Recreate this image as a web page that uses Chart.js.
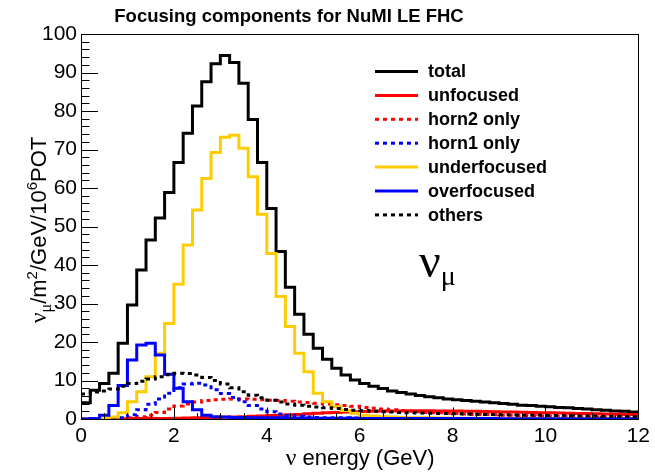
<!DOCTYPE html>
<html><head><meta charset="utf-8">
<script src="https://cdn.jsdelivr.net/npm/chart.js@4/dist/chart.umd.min.js"></script>
<style>html,body{margin:0;padding:0;background:#fff}</style>
</head><body>
<canvas id="c" width="655" height="474"></canvas>
<script>
// ---- data (bin contents, 0.2 GeV bins from 0 to 12 GeV) ----
const binWidth = 0.2;
const total = [4.2,7.5,9.2,11.9,19.7,29.6,38.7,46.5,52.2,58.8,
  66.6,74.2,81.3,87.6,92.3,94.4,92.6,87.2,77.8,66.6,
  54.7,43.5,34.2,27.2,22.0,18.4,15.5,13.2,11.4,10.1,
  9.2,8.5,7.9,7.3,6.9,6.5,6.1,5.8,5.5,5.2,
  5.0,4.8,4.6,4.4,4.2,4.0,3.8,3.6,3.5,3.3,
  3.2,3.0,2.9,2.7,2.6,2.4,2.3,2.1,2.0,1.8];
const unfocused = [0.05,0.05,0.05,0.05,0.05,0.1,0.1,0.1,0.1,0.1,
  0.2,0.25,0.3,0.35,0.4,0.45,0.5,0.6,0.7,0.8,
  0.9,1.0,1.1,1.2,1.35,1.5,1.6,1.7,1.8,1.9,
  1.95,2.0,2.05,2.1,2.1,2.15,2.15,2.15,2.1,2.1,
  2.05,2.0,2.0,1.95,1.9,1.85,1.8,1.75,1.7,1.65,
  1.6,1.55,1.5,1.45,1.4,1.35,1.3,1.25,1.2,1.15];
const horn2Only = [0,0,0,0.05,0.15,0.3,0.6,1.0,1.7,2.6,
  3.4,3.9,4.4,4.8,5.0,5.1,5.2,5.2,5.1,5.0,
  4.9,4.8,4.6,4.4,4.3,4.1,3.9,3.7,3.5,3.3,
  3.0,2.8,2.6,2.4,2.2,2.0,1.9,1.7,1.6,1.5,
  1.4,1.3,1.2,1.15,1.1,1.0,0.95,0.9,0.85,0.8,
  0.75,0.7,0.65,0.6,0.6,0.55,0.5,0.5,0.45,0.4];
const horn1Only = [0,0,0,0.1,0.3,1.1,2.4,3.8,5.2,6.7,
  8.1,9.1,9.3,8.8,7.6,6.6,5.6,4.5,3.5,2.6,
  1.9,1.3,0.9,0.7,0.5,0.4,0.35,0.3,0.3,0.25,
  0.2,0.2,0.2,0.2,0.2,0.15,0.15,0.15,0.15,0.15,
  0.15,0.1,0.1,0.1,0.1,0.1,0.1,0.1,0.1,0.1,
  0.1,0.1,0.1,0.1,0.1,0.1,0.1,0.1,0.1,0.1];
const underfocused = [0,0,0.1,0.5,1.6,4.5,7.1,11.0,17.1,24.8,
  35.0,45.2,54.3,62.5,69.2,73.2,73.7,70.3,62.9,53.2,
  43.0,31.8,24.0,17.1,12.3,6.7,4.5,3.2,2.2,1.5,
  1.0,0.8,0.6,0.5,0.4,0.35,0.3,0.3,0.25,0.25,
  0.2,0.2,0.2,0.2,0.2,0.15,0.15,0.15,0.15,0.15,
  0.15,0.1,0.1,0.1,0.1,0.1,0.1,0.1,0.1,0.1];
const overfocused = [0,0.1,1.0,3.5,8.7,15.3,19.2,19.7,16.6,11.6,
  8.0,4.5,2.4,1.0,0.6,0.5,0.4,0.4,0.3,0.3,
  0.3,0.3,0.25,0.25,0.25,0.2,0.2,0.2,0.2,0.2,
  0.15,0.15,0.15,0.15,0.15,0.1,0.1,0.1,0.1,0.1,
  0.1,0.1,0.1,0.1,0.1,0.05,0.05,0.05,0.05,0.05,
  0.05,0.05,0.05,0.05,0.05,0.05,0.05,0.05,0.05,0.05];
const others = [6.5,7.0,7.3,7.8,8.5,9.2,9.8,10.4,11.0,11.5,
  11.9,11.8,11.4,10.8,10.0,9.1,8.1,7.1,6.2,5.5,
  4.9,4.4,3.9,3.6,3.3,3.1,2.9,2.7,2.5,2.3,
  2.2,2.0,1.9,1.8,1.7,1.6,1.55,1.5,1.45,1.4,
  1.35,1.3,1.25,1.2,1.15,1.1,1.05,1.0,1.0,0.95,
  0.9,0.9,0.85,0.8,0.8,0.75,0.7,0.7,0.65,0.6];
const seriesNames = ["total","unfocused","horn2 only","horn1 only","underfocused","overfocused","others"];
const xTickValues = [0,2,4,6,8,10,12];
const yTickValues = [0,10,20,30,40,50,60,70,80,90,100];

// ---- build histogram step points ----
function steps(vals){
  const pts = vals.map((v,i)=>({x: +(i*binWidth).toFixed(3), y: v}));
  pts.push({x: +(vals.length*binWidth).toFixed(3), y: vals[vals.length-1]});
  return pts;
}
const SANS = '"Liberation Sans", Arial, Helvetica, sans-serif';
const SERIF = '"Liberation Serif", "DejaVu Serif", serif';
const seriesValues = [total, unfocused, horn2Only, horn1Only, underfocused, overfocused, others];
const colors = ['#000000','#ff0000','#ff0000','#0000ff','#ffcc00','#0000ff','#000000'];
const dashed = [false,false,true,true,false,false,true];

const datasets = seriesValues.map((vals,i)=>({
  label: seriesNames[i],
  data: steps(vals),
  borderColor: colors[i],
  backgroundColor: colors[i],
  borderWidth: 3,
  borderDash: dashed[i] ? [4,4] : [],
  stepped: 'before',
  pointRadius: 0,
  fill: false,
  order: seriesNames.length - i
}));

function drawRich(ctx, segs, x, y, rotate, align){
  let w = 0;
  segs.forEach(s=>{ ctx.font = s.font; s.w = ctx.measureText(s.t).width; w += s.w; });
  ctx.save();
  ctx.translate(x,y);
  if (rotate) ctx.rotate(-Math.PI/2);
  ctx.textAlign = 'left'; ctx.textBaseline = 'alphabetic'; ctx.fillStyle = '#000';
  let cx = align === 'center' ? -w/2 : 0;
  segs.forEach(s=>{ ctx.font = s.font; ctx.fillText(s.t, cx, s.dy||0); cx += s.w; });
  ctx.restore();
}

const decor = {
  id: 'decor',
  afterDraw(chart){
    const ctx = chart.ctx, a = chart.chartArea;
    const xs = chart.scales.x, ys = chart.scales.y;
    ctx.save();
    ctx.strokeStyle = '#000'; ctx.lineWidth = 1;
    // y ticks (inside, left)
    for (let v = 0; v <= 100; v += 2){
      const y = Math.round(ys.getPixelForValue(v)) + 0.5;
      const len = (v % 10 === 0) ? 17 : 8.5;
      ctx.beginPath(); ctx.moveTo(a.left, y); ctx.lineTo(a.left + len, y); ctx.stroke();
    }
    // x ticks (inside, bottom)
    for (let v = 0; v <= 12; v += 0.5){
      const x = Math.round(xs.getPixelForValue(v)) + 0.5;
      const len = (v % 2 === 0) ? 11.5 : 5.8;
      ctx.beginPath(); ctx.moveTo(x, a.bottom); ctx.lineTo(x, a.bottom - len); ctx.stroke();
    }
    // frame
    ctx.strokeRect(Math.round(a.left)+0.5, Math.round(a.top)+0.5, Math.round(a.right-a.left), Math.round(a.bottom-a.top));
    // title
    ctx.fillStyle = '#000';
    ctx.font = 'bold 18.5px ' + SANS;
    ctx.textAlign = 'center'; ctx.textBaseline = 'alphabetic';
    ctx.fillText('Focusing components for NuMI LE FHC', 289, 22);
    // legend
    const lx0 = 375, lx1 = 418, tx = 428, ly0 = 71.5, dy = 23.9;
    chart.data.datasets.forEach((ds,i)=>{
      const y = ly0 + i*dy;
      ctx.strokeStyle = ds.borderColor; ctx.lineWidth = 3;
      ctx.setLineDash(ds.borderDash || []);
      ctx.beginPath(); ctx.moveTo(lx0, y); ctx.lineTo(lx1, y); ctx.stroke();
      ctx.setLineDash([]);
      ctx.fillStyle = '#000';
      ctx.font = 'bold 18px ' + SANS;
      ctx.textAlign = 'left'; ctx.textBaseline = 'middle';
      ctx.fillText(ds.label, tx, y + 1);
    });
    ctx.restore();
    // nu_mu annotation
    drawRich(ctx, [
      {t:'\u03BD', font: '48px ' + SERIF},
      {t:'\u03BC', font: '28px ' + SERIF, dy: 8}
    ], 419, 277, false, 'left');
    // x title
    drawRich(ctx, [
      {t:'\u03BD', font: '24px ' + SERIF},
      {t:' energy (GeV)', font: '22px ' + SANS}
    ], 360, 465, false, 'center');
    // y title
    drawRich(ctx, [
      {t:'\u03BD', font: '24px ' + SERIF},
      {t:'\u03BC', font: '16px ' + SERIF, dy: 5},
      {t:'/m', font: '22px ' + SANS},
      {t:'2', font: '15px ' + SANS, dy: -9},
      {t:'/GeV/10', font: '22px ' + SANS},
      {t:'6', font: '15px ' + SANS, dy: -9},
      {t:'POT', font: '22px ' + SANS}
    ], 46, 230, true, 'center');
  }
};

new Chart(document.getElementById('c'), {
  type: 'line',
  data: { datasets },
  options: {
    responsive: false,
    devicePixelRatio: 1,
    animation: false,
    layout: { padding: { top: 34, right: 15, left: 0, bottom: 0 } },
    elements: { point: { radius: 0 }, line: { tension: 0 } },
    plugins: { legend: { display: false }, title: { display: false }, tooltip: { enabled: false } },
    scales: {
      x: {
        type: 'linear', min: 0, max: 12,
        grid: { display: false, drawTicks: false },
        border: { display: false },
        afterBuildTicks: s => { s.ticks = xTickValues.map(v => ({ value: v })); },
        afterFit: s => { s.height = 55; },
        ticks: { font: { family: SANS, size: 21 }, color: '#000', padding: 5, maxRotation: 0, autoSkip: false }
      },
      y: {
        type: 'linear', min: 0, max: 100,
        grid: { display: false, drawTicks: false },
        border: { display: false },
        afterBuildTicks: s => { s.ticks = yTickValues.map(v => ({ value: v })); },
        afterFit: s => { s.width = 81; },
        ticks: { font: { family: SANS, size: 21 }, color: '#000', padding: 4, autoSkip: false }
      }
    }
  },
  plugins: [decor]
});
</script>
</body></html>
